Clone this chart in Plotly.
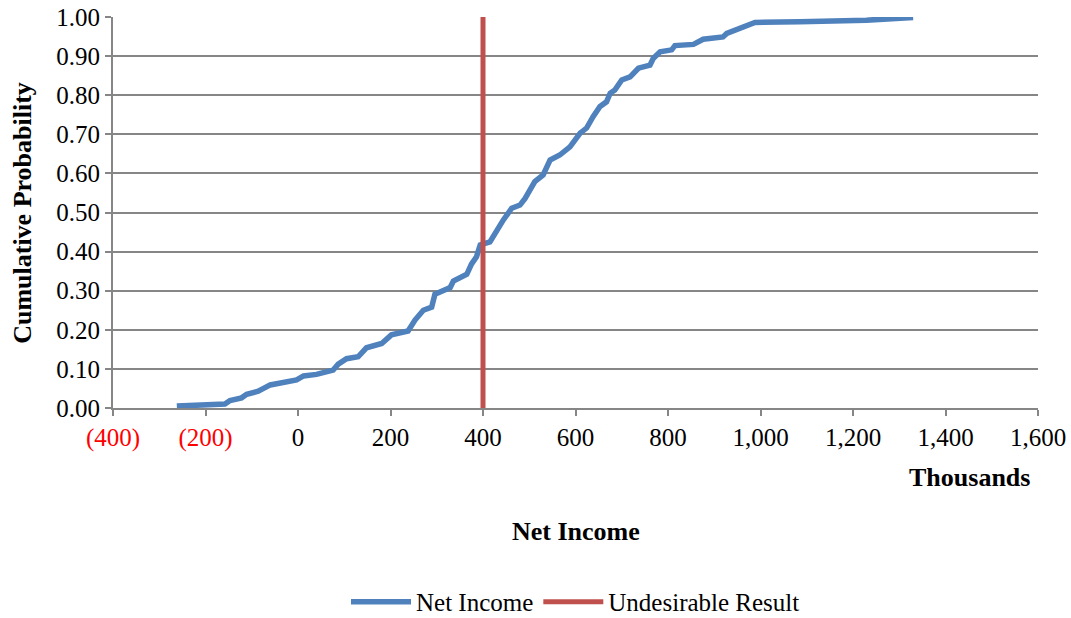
import plotly.graph_objects as go

# values (net income in thousands, cumulative prob.)
net_income = [
    -262, -158, -147, -122, -111, -86, -60, -3, 12, 40, 76, 87, 105, 130,
    148, 181, 202, 238, 253, 271, 289, 296, 329, 336, 365, 375, 386, 394,
    415, 426, 444, 462, 480, 491, 505, 512, 530, 545, 566, 588, 610, 624,
    638, 653, 667, 675, 685, 700, 718, 736, 761, 768, 783, 808, 815, 855,
    876, 919, 927, 948, 956, 974, 988, 1085, 1229, 1330,
]
cum_prob = [
    0.005, 0.010, 0.019, 0.026, 0.035, 0.043, 0.059, 0.072, 0.082, 0.086,
    0.097, 0.112, 0.126, 0.131, 0.154, 0.165, 0.187, 0.197, 0.225, 0.250,
    0.258, 0.291, 0.308, 0.325, 0.342, 0.368, 0.387, 0.417, 0.425, 0.447,
    0.481, 0.511, 0.519, 0.536, 0.566, 0.579, 0.596, 0.634, 0.647, 0.668,
    0.703, 0.716, 0.745, 0.771, 0.783, 0.805, 0.813, 0.839, 0.847, 0.869,
    0.877, 0.894, 0.911, 0.916, 0.927, 0.930, 0.943, 0.949, 0.958, 0.967,
    0.974, 0.980, 0.986, 0.988, 0.992, 0.999,
]
undesirable_x = [400, 400]
undesirable_y = [0, 1]

x_ticks = [-400, -200, 0, 200, 400, 600, 800, 1000, 1200, 1400, 1600]
y_ticks = [i / 10 for i in range(11)]


def fmt_tick(v):
    if v < 0:
        return f"<span style='color:#FF0000'>({abs(v):,})</span>"
    return f"{v:,}"


FONT = "Liberation Serif, Times New Roman, serif"
GRID = "#868686"
TICK_SIZE = 25
TITLE_SIZE = 26

fig = go.Figure()
fig.add_trace(
    go.Scatter(
        x=net_income,
        y=cum_prob,
        mode="lines",
        name="Net Income",
        line=dict(color="#4F81BD", width=5.5),
    )
)
fig.add_trace(
    go.Scatter(
        x=undesirable_x,
        y=undesirable_y,
        mode="lines",
        name="Undesirable Result",
        line=dict(color="#C0504D", width=5),
    )
)

fig.update_layout(
    width=1071,
    height=618,
    margin=dict(l=113, r=33, t=17, b=210, autoexpand=False),
    paper_bgcolor="white",
    plot_bgcolor="white",
    font=dict(family=FONT, size=TICK_SIZE, color="black"),
    showlegend=True,
    legend=dict(
        orientation="h",
        x=0.5,
        xanchor="center",
        y=0.026,
        yanchor="middle",
        yref="container",
        font=dict(family=FONT, size=TICK_SIZE, color="black"),
        itemwidth=60,
    ),
    xaxis=dict(
        range=[-400, 1600],
        tickvals=x_ticks,
        ticktext=[fmt_tick(v) for v in x_ticks],
        showgrid=False,
        zeroline=False,
        showline=True,
        linecolor=GRID,
        linewidth=2,
        ticks="outside",
        ticklen=6,
        tickwidth=1.5,
        tickcolor=GRID,
        tickfont=dict(family=FONT, size=TICK_SIZE),
        automargin=False,
    ),
    yaxis=dict(
        range=[0, 1],
        tickvals=y_ticks,
        tickformat=".2f",
        showgrid=True,
        gridcolor=GRID,
        gridwidth=2,
        zeroline=False,
        showline=True,
        linecolor=GRID,
        linewidth=2,
        ticks="outside",
        ticklen=6,
        tickwidth=1.5,
        tickcolor=GRID,
        tickfont=dict(family=FONT, size=TICK_SIZE),
        automargin=False,
    ),
    annotations=[
        dict(
            text="<b>Cumulative Probability</b>",
            x=-0.098,
            xref="paper",
            xanchor="center",
            y=0.5,
            yref="paper",
            yanchor="middle",
            textangle=-90,
            showarrow=False,
            font=dict(family=FONT, size=TITLE_SIZE),
        ),
        dict(
            text="<b>Thousands</b>",
            x=1.0,
            xref="paper",
            xanchor="right",
            y=-0.179,
            yref="paper",
            yanchor="middle",
            showarrow=False,
            font=dict(family=FONT, size=TITLE_SIZE),
            xshift=-6,
        ),
        dict(
            text="<b>Net Income</b>",
            x=0.5,
            xref="paper",
            xanchor="center",
            y=-0.317,
            yref="paper",
            yanchor="middle",
            showarrow=False,
            font=dict(family=FONT, size=TITLE_SIZE),
        ),
    ],
)

# drop the default 8px page margin so the figure sits at the window corner
fig.write_html(
    "out.html",
    config={"displayModeBar": False},
    post_script="document.body.style.margin = '0';",
)
